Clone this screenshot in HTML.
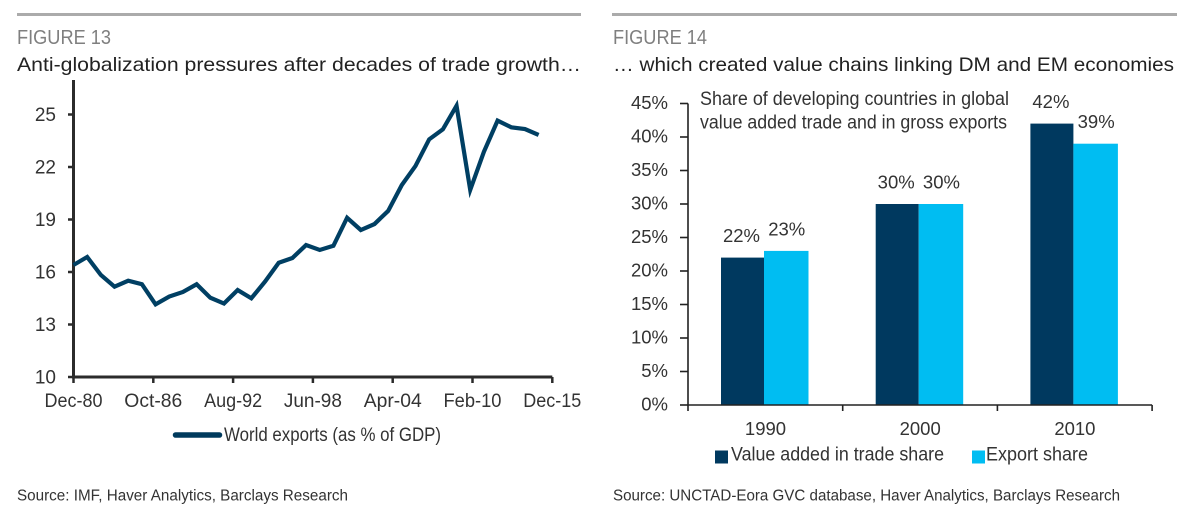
<!DOCTYPE html>
<html lang="en">
<head>
<meta charset="utf-8">
<title>Figures 13 and 14</title>
<style>
html,body{margin:0;padding:0;background:#fff;width:1200px;height:523px;overflow:hidden}
svg{display:block}
text{font-family:"Liberation Sans",sans-serif;fill:#333}
</style>
</head>
<body>
<svg id="chart" width="1200" height="523" viewBox="0 0 1200 523" xmlns="http://www.w3.org/2000/svg">
  <rect x="0" y="0" width="1200" height="523" fill="#fff"/>
  <rect x="17" y="13" width="564" height="3" fill="#ababab"/>
  <rect x="612" y="13" width="565" height="3" fill="#ababab"/>
  <text x="17" y="44" font-size="20.5" textLength="94" lengthAdjust="spacingAndGlyphs" style="fill:#7f7f7f">FIGURE 13</text>
  <text x="613" y="44" font-size="20.5" textLength="94" lengthAdjust="spacingAndGlyphs" style="fill:#7f7f7f">FIGURE 14</text>
  <text x="17" y="71" font-size="19.5" textLength="564" lengthAdjust="spacingAndGlyphs" style="fill:#222">Anti-globalization pressures after decades of trade growth…</text>
  <text x="613" y="71" font-size="19.5" textLength="561" lengthAdjust="spacingAndGlyphs" style="fill:#222">… which created value chains linking DM and EM economies</text>
  <text x="700" y="105" font-size="19" textLength="309" lengthAdjust="spacingAndGlyphs">Share of developing countries in global</text>
  <text x="700" y="128.5" font-size="19" textLength="307" lengthAdjust="spacingAndGlyphs">value added trade and in gross exports</text>
  <line x1="175.5" y1="435" x2="219.5" y2="435" stroke="#003a5d" stroke-width="5.5" stroke-linecap="round"/>
  <text x="224" y="441" font-size="19" textLength="217" lengthAdjust="spacingAndGlyphs">World exports (as % of GDP)</text>
  <rect x="715" y="450.5" width="13" height="13" fill="#00395f"/>
  <text x="731" y="460.5" font-size="19.5" textLength="213" lengthAdjust="spacingAndGlyphs">Value added in trade share</text>
  <rect x="972" y="450.5" width="13" height="13" fill="#00bdf2"/>
  <text x="986" y="460.5" font-size="19.5" textLength="102" lengthAdjust="spacingAndGlyphs">Export share</text>
  <text x="17" y="500.7" font-size="15.5" textLength="331" lengthAdjust="spacingAndGlyphs">Source: IMF, Haver Analytics, Barclays Research</text>
  <text x="613" y="500.7" font-size="15.5" textLength="507" lengthAdjust="spacingAndGlyphs">Source: UNCTAD-Eora GVC database, Haver Analytics, Barclays Research</text>
</svg>
<script>
// Figure 13 data
const exportYears = [1980,1981,1982,1983,1984,1985,1986,1987,1988,1989,1990,1991,1992,1993,1994,1995,1996,1997,1998,1999,2000,2001,2002,2003,2004,2005,2006,2007,2008,2009,2010,2011,2012,2013,2014];
const exportValues = [16.4,16.86,15.83,15.16,15.5,15.3,14.15,14.6,14.86,15.3,14.53,14.2,14.97,14.5,15.45,16.53,16.8,17.54,17.26,17.5,19.1,18.4,18.74,19.49,20.97,22.06,23.58,24.15,25.5,20.69,22.87,24.65,24.27,24.17,23.83];
const lineYTicks = [10,13,16,19,22,25];
const lineXTickLabels = ['Dec-80','Oct-86','Aug-92','Jun-98','Apr-04','Feb-10','Dec-15'];
const lineXTickMonths = [0,70,140,210,280,350,420];

// Figure 14 data
const barCategories = ['1990','2000','2010'];
const valueAddedShare = [22,30,42];
const exportShare = [23,30,39];
const barYTicks = [0,5,10,15,20,25,30,35,40,45];

const NS = 'http://www.w3.org/2000/svg';
const svg = document.getElementById('chart');

function make(tag, props, content) {
  const node = document.createElementNS(NS, tag);
  for (const k in props) node.setAttribute(k, props[k]);
  if (content !== undefined) node.textContent = content;
  svg.appendChild(node);
  return node;
}

// Figure 13 axis functions
const lineX = months => 73.5 + months * 1.14;
const lineY = v => 377 - (v - 10) * 17.5;

let el = make('path', {d: 'M73.5 80V377H' + lineX(420), fill: 'none', stroke: '#2b2b2b', 'stroke-width': 3});



lineYTicks.forEach(t => {
  const tick = make('line', {x1: 68, x2: 73.5, y1: lineY(t), y2: lineY(t), stroke: '#2b2b2b', 'stroke-width': 2.5});
  
  
  const label = make('text', {x: 56, y: lineY(t) + 6.5, 'font-size': 19, 'text-anchor': 'end'}, String(t));
  
  
});

lineXTickLabels.forEach((t, i) => {
  const x = lineX(lineXTickMonths[i]);
  const tick = make('line', {x1: x, x2: x, y1: 377, y2: 383, stroke: '#2b2b2b', 'stroke-width': 2.5});
  
  
  const label = make('text', {x: x, y: 407, 'font-size': 19.5, 'text-anchor': 'middle', textLength: 58, lengthAdjust: 'spacingAndGlyphs'}, t);
  
  
});

const linePoints = exportValues.map((v, i) => lineX((exportYears[i] - exportYears[0]) * 12) + ',' + lineY(v)).join(' ');
el = make('polyline', {points: linePoints, fill: 'none', stroke: '#003f63', 'stroke-width': 4.2, 'stroke-linejoin': 'miter', 'stroke-linecap': 'butt'});



// Figure 14 axis functions
const barY = v => 405 - v * 6.7;
const bandX = i => 688 + i * 154.7;
const darkWidth = 43;
const lightWidth = 44.5;
const barOffset = 33;

barCategories.forEach((c, i) => {
  const x0 = bandX(i) + barOffset;
  const dark = make('rect', {x: x0, y: barY(valueAddedShare[i]), width: darkWidth, height: 405 - barY(valueAddedShare[i]), fill: '#00395f'});
  
  
  const light = make('rect', {x: x0 + darkWidth, y: barY(exportShare[i]), width: lightWidth, height: 405 - barY(exportShare[i]), fill: '#00bdf2'});
  
  
  const l1 = make('text', {x: x0 + darkWidth / 2 - 1, y: barY(valueAddedShare[i]) - 15.5, 'font-size': 18.5, 'text-anchor': 'middle'}, valueAddedShare[i] + '%');
  
  
  const l2 = make('text', {x: x0 + darkWidth + lightWidth / 2 + 0.5, y: barY(exportShare[i]) - 15.5, 'font-size': 18.5, 'text-anchor': 'middle'}, exportShare[i] + '%');
  
  
  const cat = make('text', {x: bandX(i) + 77.5, y: 435, 'font-size': 18.5, 'text-anchor': 'middle'}, c);
  
  
});

el = make('path', {d: 'M688 ' + barY(45) + 'V405H' + bandX(3), fill: 'none', stroke: '#222', 'stroke-width': 1.6});



barYTicks.forEach(t => {
  const tick = make('line', {x1: 680, x2: 688, y1: barY(t), y2: barY(t), stroke: '#222', 'stroke-width': 1.6});
  
  
  const label = make('text', {x: 668, y: barY(t) + 5.5, 'font-size': 18.5, 'text-anchor': 'end'}, t + '%');
  
  
});

[0,1,2,3].forEach(i => {
  const tick = make('line', {x1: bandX(i), x2: bandX(i), y1: 405, y2: 411, stroke: '#222', 'stroke-width': 1.6});
  
  
});
</script>
</body>
</html>
